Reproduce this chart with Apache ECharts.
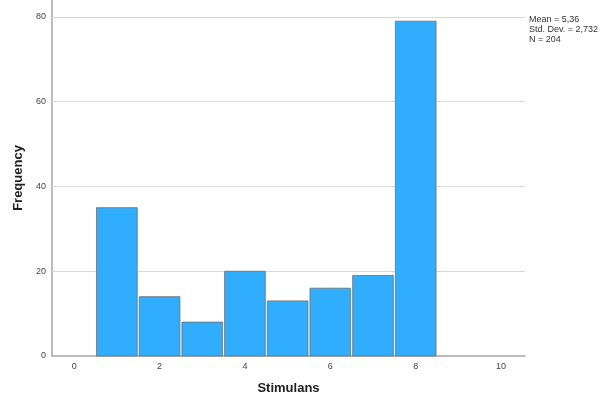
<!DOCTYPE html>
<html><head><meta charset="utf-8">
<script src="https://cdn.jsdelivr.net/npm/echarts@6/dist/echarts.min.js"></script>
<style>html,body{margin:0;padding:0;background:#fff}#c{width:609px;height:403px}</style>
</head><body><div id="c"></div>
<script>
const binCenters = [1, 2, 3, 4, 5, 6, 7, 8];
const frequencies = [35, 14, 8, 20, 13, 16, 19, 79];
const xTickValues = [0, 2, 4, 6, 8, 10];
const yTickValues = [0, 20, 40, 60, 80];
const statLines = ["Mean = 5,36", "Std. Dev. = 2,732", "N = 204"];
const xTitle = "Stimulans";
const yTitle = "Frequency";

const chart = echarts.init(document.getElementById('c'), null, {renderer: 'canvas'});
const data = binCenters.map((c, i) => [c, frequencies[i]]);
const font = '"Liberation Sans", Arial, sans-serif';
chart.setOption({
  animation: false,
  backgroundColor: '#fff',
  grid: {left: 52, right: 84, top: 0, bottom: 47},
  xAxis: {
    type: 'value', min: -0.52, max: 10.56,
    axisLine: {show: true, onZero: false, lineStyle: {color: '#a6a6a6', width: 1.5}},
    axisTick: {show: false},
    splitLine: {show: false},
    axisLabel: {color: '#444', fontSize: 9, fontFamily: font, margin: 6, customValues: xTickValues},
    name: xTitle, nameLocation: 'middle', nameGap: 26,
    nameTextStyle: {color: '#222', fontSize: 13, fontWeight: 'bold', fontFamily: font}
  },
  yAxis: {
    type: 'value', min: 0, max: 84,
    axisLine: {show: true, onZero: false, lineStyle: {color: '#a6a6a6', width: 1.5}},
    axisTick: {show: false},
    splitLine: {show: false},
    axisLabel: {color: '#444', fontSize: 9, fontFamily: font, margin: 6, customValues: yTickValues},
    name: yTitle, nameLocation: 'middle', nameGap: 25,
    nameTextStyle: {color: '#222', fontSize: 13, fontWeight: 'bold', fontFamily: font}
  },
  series: [{
    type: 'custom',
    data: data,
    z: 3,
    renderItem: function (params, api) {
      const x = api.value(0), y = api.value(1);
      const p0 = api.coord([x - 0.5, y]);
      const p1 = api.coord([x + 0.5, 0]);
      return {
        type: 'rect',
        shape: {x: p0[0] + 1, y: p0[1], width: p1[0] - p0[0] - 2, height: p1[1] - p0[1]},
        style: {fill: '#31adfd', stroke: '#6f6f6f', lineWidth: 0.8}
      };
    },
    markLine: {
      silent: true, symbol: 'none', z: 1,
      label: {show: false},
      lineStyle: {color: '#d9d9d9', width: 1.2, type: 'solid'},
      data: yTickValues.filter(v => v > 0).map(v => ({yAxis: v}))
    }
  }],
  graphic: [{
    type: 'text', left: 529, top: 15,
    style: {text: statLines.join('\n'), fill: '#333', fontSize: 9, lineHeight: 10, fontFamily: font}
  }]
});
</script></body></html>
